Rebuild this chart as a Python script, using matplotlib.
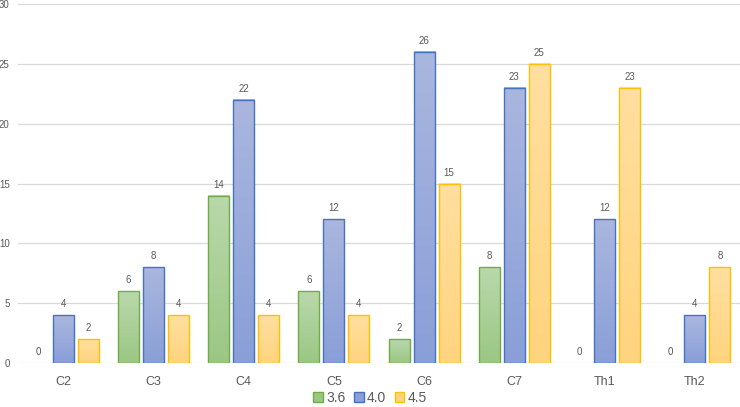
import matplotlib
matplotlib.use('Agg')
import matplotlib.pyplot as plt
import numpy as np
from matplotlib.patches import Patch
from matplotlib.colors import LinearSegmentedColormap

# dados
categorias = ['C2', 'C3', 'C4', 'C5', 'C6', 'C7', 'Th1', 'Th2']
series = ['3.6', '4.0', '4.5']
v36 = [0, 6, 14, 6, 2, 8, 0, 0]
v40 = [4, 8, 22, 12, 26, 23, 12, 4]
v45 = [2, 4, 4, 4, 15, 25, 23, 8]
valores = [v36, v40, v45]

# cores (topo, base, borda)
cores = [('#b9d8ab', '#9bc784', '#70ad47'),
         ('#aab6de', '#8a9fd8', '#4472c4'),
         ('#ffdfa0', '#ffd47f', '#ffc000')]

plt.rcParams['font.family'] = ['Liberation Sans', 'DejaVu Sans']

fig = plt.figure(figsize=(7.4, 4.07), dpi=100)
ax = fig.add_axes([0.0243, 0.108, 0.9757, 0.882])

x = np.arange(len(categorias))
w = 0.233
desl = [-0.277, 0, 0.277]
grad = np.linspace(1, 0, 100).reshape(-1, 1)

for s in range(3):
    cmap = LinearSegmentedColormap.from_list('g%d' % s, [cores[s][1], cores[s][0]])
    for i in range(len(categorias)):
        xc = x[i] + desl[s]
        h = valores[s][i]
        if h > 0:
            ax.imshow(grad, extent=(xc - w/2, xc + w/2, 0, h), aspect='auto',
                      cmap=cmap, vmin=0, vmax=1, zorder=2, interpolation='bicubic')
            ax.bar(xc, h, w, facecolor='none', edgecolor=cores[s][2], lw=1.0, zorder=3)
        ax.text(xc, h + 0.5, str(h), ha='center', va='bottom', fontsize=7, color='#595959')

ax.set_xlim(-0.5, len(categorias) - 0.5)
ax.set_ylim(0, 30)
ax.set_yticks(range(0, 31, 5))
ax.set_xticks(x)
ax.set_xticklabels(categorias)
ax.tick_params(axis='y', length=0, labelsize=7, colors='#595959', pad=6)
ax.tick_params(axis='x', length=0, labelsize=9, colors='#595959', pad=9)
ax.yaxis.grid(True, color='#d9d9d9', lw=0.9)
ax.set_axisbelow(True)
for sp in ax.spines.values():
    sp.set_visible(False)

handles = [Patch(facecolor=cores[s][1], edgecolor=cores[s][2], label=series[s]) for s in range(3)]
fig.legend(handles=handles, loc='lower center', bbox_to_anchor=(0.5, -0.025), ncol=3, frameon=False,
           fontsize=10, handlelength=0.7, handleheight=0.7, handletextpad=0.25, columnspacing=0.6,
           labelcolor='#595959')

fig.savefig('out.png', dpi=100)
